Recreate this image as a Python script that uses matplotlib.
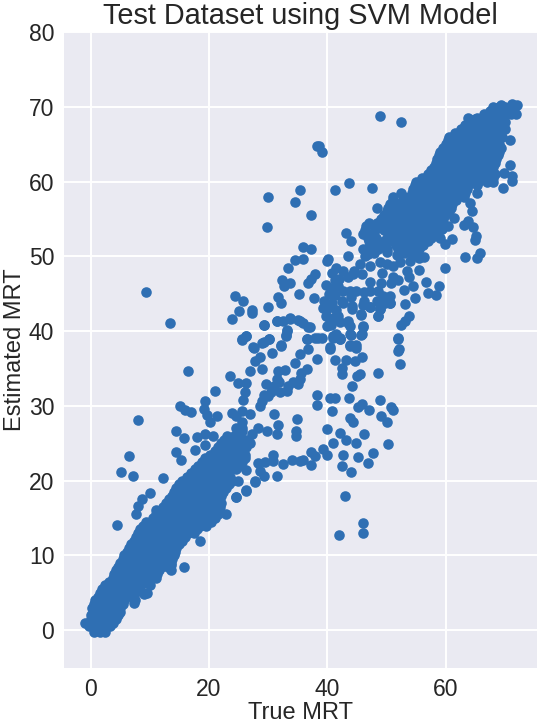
import matplotlib
matplotlib.use("Agg")
import matplotlib.pyplot as plt

plt.rcParams['font.family'] = ['Liberation Sans', 'DejaVu Sans']

title = "Test Dataset using SVM Model"
xlabel = "True MRT"
ylabel = "Estimated MRT"
xticks = [0, 20, 40, 60]
yticks = [0, 10, 20, 30, 40, 50, 60, 70, 80]

# dense lower band, read row by row: estimated value -> true values
lower_y = [-0.3, 0.5, 1, 2, 3, 4, 5, 6, 7, 8, 9, 10, 11, 12, 13, 14, 15, 16, 17, 18, 19, 20, 21, 22, 23, 24, 25, 26, 27]
lower_x = [
    [0.5, 1.5, 2.5], [-0.3, 0.8, 2, 3.2], [-0.9, 0.3, 1.5, 2.7, 3.8], [0, 1.2, 2.4, 3.6, 4.6],
    [0.3, 1.5, 2.7, 3.9, 5.0], [0.8, 2, 3.2, 4.4, 5.6, 7.5], [1.5, 2.7, 3.9, 5.1, 6.3, 7.5, 9.5],
    [2.5, 3.7, 4.9, 6.1, 7.3, 8.5, 10], [3.7, 4.9, 6.1, 7.3, 8.5, 9.7, 11],
    [4.3, 5.5, 6.7, 7.9, 9.1, 10.3, 11.5, 13.5], [5, 6.2, 7.4, 8.6, 9.8, 11, 12.2, 13.5],
    [5.7, 6.9, 8.1, 9.3, 10.5, 11.7, 12.9, 14], [6.5, 7.7, 8.9, 10.1, 11.3, 12.5, 13.7, 14.5],
    [7.3, 8.5, 9.7, 10.9, 12.1, 13.3, 14.5, 15.5], [8, 9.2, 10.4, 11.6, 12.8, 14, 15.2, 16.4, 17.5],
    [8.8, 10, 11.2, 12.4, 13.6, 14.8, 16, 17.2, 18.4, 19.5],
    [10.5, 11.7, 12.9, 14.1, 15.3, 16.5, 17.7, 18.9, 20.1, 21],
    [11.7, 12.9, 14.1, 15.3, 16.5, 17.7, 18.9, 20.1, 21.3],
    [12.7, 13.9, 15.1, 16.3, 17.5, 18.7, 19.9, 21.1, 22], [13.7, 14.9, 16.1, 17.3, 18.5, 19.7, 20.9, 22],
    [14.5, 15.7, 16.9, 18.1, 19.3, 20.5, 21.7, 22.8], [15.5, 16.7, 17.9, 19.1, 20.3, 21.5, 22.7, 23.9],
    [17, 18.2, 19.4, 20.6, 21.8, 23], [18.2, 19.4, 20.6, 21.8, 23, 24.2, 25],
    [19.3, 20.5, 21.7, 22.9, 24.1, 25.3, 26], [21, 22.2, 23.4, 24.6, 25.8], [22, 23.2, 24.4, 25.6, 27],
    [23, 24.2, 25.2], [24.5, 25.5],
]

# more of the lower band, at the rows in between
lower_mid_y = [1.5, 2.5, 3.5, 4.5, 5.5, 6.5, 7.5, 8.5, 9.5, 10.5, 11.5, 12.5, 13.5, 14.5, 15.5, 16.5, 17.5, 18.5, 19.5, 20.5, 21.5, 22.5, 23.5, 24.5, 25.5]
lower_mid_x = [
    [0, 1.1, 2.2, 3.3, 4.2], [0.6, 1.8, 3, 4.2, 5], [0.6, 1.8, 3, 4.2, 5.4], [1.2, 2.4, 3.6, 4.8, 6],
    [2, 3.2, 4.4, 5.6, 6.8, 8], [3.1, 4.3, 5.5, 6.7, 7.9, 9.1], [4, 5.2, 6.4, 7.6, 8.8, 10, 11.2],
    [4.6, 5.9, 7.1, 8.3, 9.5, 10.7, 11.9, 13], [5.4, 6.6, 7.8, 9, 10.2, 11.4, 12.6, 13.8],
    [6.1, 7.3, 8.5, 9.7, 10.9, 12.1, 13.3, 14.3], [6.9, 8.1, 9.3, 10.5, 11.7, 12.9, 14.1, 15],
    [7.7, 8.9, 10.1, 11.3, 12.5, 13.7, 14.9, 16], [8.4, 9.6, 10.8, 12, 13.2, 14.4, 15.6, 16.8, 18],
    [9.4, 11, 12.2, 13.4, 14.6, 15.8, 17, 18.2, 19.4, 20.3],
    [11, 12.3, 13.5, 14.7, 15.9, 17.1, 18.3, 19.5, 20.7, 21.5],
    [12.2, 13.5, 14.7, 15.9, 17.1, 18.3, 19.5, 20.7, 21.8], [13.2, 14.5, 15.7, 16.9, 18.1, 19.3, 20.5, 21.7],
    [14.1, 15.3, 16.5, 17.7, 18.9, 20.1, 21.3, 22.4], [15, 16.3, 17.5, 18.7, 19.9, 21.1, 22.3, 23.3],
    [16.3, 17.5, 18.7, 19.9, 21.1, 22.3, 23.5], [17.6, 18.8, 20, 21.2, 22.4, 23.6, 24.6],
    [18.8, 20, 21.2, 22.4, 23.6, 24.8, 25.6], [20.2, 21.4, 22.6, 23.8, 25, 26],
    [21.5, 22.7, 23.9, 25.1, 26.3], [22.5, 23.7, 24.9, 26.2],
]

# dense upper band, read row by row
upper_y = [70, 69, 68, 67, 66, 65, 64, 63, 62, 61, 60, 59, 58, 57, 56, 55, 54, 53, 52, 51]
upper_x = [
    [68, 69, 70, 71], [66.5, 68, 69.5, 71], [64, 65.5, 67, 68.5, 70], [62.5, 64, 65.5, 67, 68.5, 70],
    [60.5, 62, 63.5, 65, 66.5, 68, 69.5], [60, 61.5, 63, 64.5, 66, 67.5, 69],
    [59, 60.5, 62, 63.5, 65, 66.5, 68, 69], [58.5, 60, 61.5, 63, 64.5, 66, 67.5, 68.5],
    [58, 59.5, 61, 62.5, 64, 65.5, 67, 68], [57, 58.5, 60, 61.5, 63, 64.5, 66, 67.5, 68.3],
    [55, 56.5, 58, 59.5, 61, 62.5, 64, 65.5, 67, 68], [54.5, 56, 57.5, 59, 60.5, 62, 63.5],
    [51, 53, 54, 55.5, 57, 58.5, 60, 61.5, 63], [50.5, 52, 53.5, 55, 56.5, 58, 59.5, 61],
    [50, 51.5, 53, 54.5, 56, 57.5, 59, 60.5], [49, 50.5, 52, 53.5, 55, 56.5, 58, 59.5],
    [46.5, 48, 49.5, 51, 52.5, 54, 55.5, 57, 58.5], [46, 47.5, 50.5, 52, 53.5, 55, 56.5, 58],
    [47, 49.5, 51, 52.5, 54, 55.5, 57], [48.5, 50, 53, 54.5, 55.5],
]

# more of the upper band, at the rows in between
upper_mid_y = [69.5, 68.5, 67.5, 66.5, 65.5, 64.5, 63.5, 62.5, 61.5, 60.5, 59.5, 58.5, 57.5, 56.5, 55.5, 54.5, 53.5, 52.5, 51.5]
upper_mid_x = [
    [67.5, 68.8, 70.2], [65.3, 66.8, 68.2, 69.6], [63.3, 64.8, 66.3, 67.8, 69.3],
    [61.5, 62.8, 64.3, 65.8, 67.3, 68.8], [60.3, 61.3, 62.8, 64.3, 65.8, 67.3, 68.8],
    [59.5, 60.8, 62.3, 63.8, 65.3, 66.8, 68.3, 69.3], [58.8, 60.3, 61.8, 63.3, 64.8, 66.3, 67.8, 68.8],
    [58.3, 59.8, 61.3, 62.8, 64.3, 65.8, 67.3, 68.3], [57.5, 58.8, 60.3, 61.8, 63.3, 64.8, 66.3, 67.8],
    [56, 57.8, 59.3, 60.8, 62.3, 63.8, 65.3, 66.8, 68], [54.8, 56.3, 57.8, 59.3, 60.8, 62.3, 63.8, 65.3],
    [52.5, 54.3, 55.8, 57.3, 58.8, 60.3, 61.8, 63.3], [51, 52.8, 54.3, 55.8, 57.3, 58.8, 60.3, 61.8],
    [50.3, 51.8, 53.3, 54.8, 56.3, 57.8, 59.3, 60.8], [49.5, 50.8, 52.3, 53.8, 55.3, 56.8, 58.3, 59.8],
    [47, 48.3, 49.8, 51.3, 52.8, 54.3, 55.8, 57.3, 58.8], [46.3, 48, 49.5, 51, 52.5, 54, 55.5, 57, 58.3],
    [46.8, 48.2, 50, 51.5, 53, 54.5, 56, 57.5], [48, 49.7, 51.5, 53.2, 54.8, 56.2],
]

# scattered points, upper right
upper_scatter_x = [48.9, 52.4, 38.3, 38.6, 39.1, 30.0, 35.4, 34.5, 41.3, 43.6, 47.5, 37.2, 29.8, 48.3, 43.1, 43.9, 35.8, 37.2, 43.4, 34.5, 35.8, 33.3, 39.9, 40.1, 37.9, 37.3, 36.8, 32.4, 32.6, 33.7, 24.4, 25.8, 25, 27.2, 27.2, 23.9, 29.9, 31.7, 32.1, 35.2, 37.7, 29.3, 31.4, 32.5, 33.7, 35.1, 35.9, 37, 33.1, 33, 26.3, 25.6, 27.5, 29.0, 30.1, 32.1, 36.5, 37.9, 39, 40.4, 42.1, 41, 43.9, 45.7, 46, 43.8, 44.9, 52, 52.1, 52.5, 53.1, 53.8, 48.5, 48.9, 45.7, 53.1, 54.8, 57, 58.3, 58.9, 56.7, 59.8, 63.3, 65.2, 65.8, 55.5, 56.3, 61.1, 59.9, 59, 64.9, 65.1, 64.6, 63, 63.7, 59.3, 60.4, 61.3, 64.4, 64, 65.2, 69.7, 71.2, 71.2, 69.8, 70.8, 70.8, 71.8, 72, 71.1, 69.4, 68.3, 67.4, 63.7, 64.9]
upper_scatter_y = [68.8, 68.0, 64.8, 64.7, 63.9, 57.9, 58.9, 57.3, 58.9, 59.8, 59.1, 55.5, 53.9, 56.4, 53.1, 52.0, 51.3, 51.0, 50.1, 49.5, 49.7, 48.5, 49.4, 49.7, 47.6, 47.0, 46.5, 46.9, 46, 46.5, 44.7, 44.0, 42.7, 42.8, 42.4, 41.6, 43.2, 44.5, 43.8, 44.9, 44.4, 40.8, 41.3, 41.4, 41.7, 41.5, 41.1, 40.5, 40.2, 39.5, 39.3, 38.8, 37.9, 38.4, 38.9, 38.1, 38.9, 39.1, 39.1, 37.9, 38.9, 39.1, 39.5, 39.5, 40.6, 38.1, 38.1, 39.1, 37.6, 40.8, 41.4, 42, 42, 42.9, 42.2, 43.6, 44.4, 45.1, 44.8, 46.0, 46.6, 48.5, 49.9, 49.8, 50.5, 48.2, 49.9, 52.3, 51.7, 52.4, 52.2, 52.7, 53.9, 54.2, 54.7, 53.6, 54.1, 55.1, 56, 57.1, 58.5, 59.1, 60.1, 60.8, 61.1, 62.2, 65.5, 69, 70.3, 70.4, 70.2, 69.8, 69.3, 68.5, 68.4]

# tangled middle cluster
middle_x = [40.7, 41.2, 40.6, 41.3, 40.8, 41.4, 40.9, 40.6, 42.7, 44.4, 45.5, 46.9, 47.2, 48.9, 49.2, 51.1, 52.2, 53.9, 53.4, 52, 53.7, 54.5, 50.8, 47.2, 42.7, 43.8, 44.9, 46.1, 47.2, 48.6, 49.4, 50.6, 50.6, 46.1, 47.2, 44.1, 42.7, 43.5, 43.8, 39.3, 39.9, 41.8, 41.5, 42.1, 43.5, 43.8, 45.8, 46, 45.7, 44.1, 48.6, 48.9, 50.5, 47.2, 40.4, 41.3, 42.4, 43.2, 44.6, 45.9, 43.8, 44.9, 42.1, 41, 52, 52, 52.2, 38.3, 38.3, 40.4, 41.3, 40.7, 43.7, 43.8, 44.4, 45.1, 45.8, 47.1, 48.8, 49.1, 50, 50.8, 51, 48.5, 44.1, 45, 45.5, 42.4]
middle_y = [47.8, 46.8, 45.8, 44.8, 43.8, 42.8, 41.8, 40.8, 48, 47.6, 49, 50.3, 48.7, 49.2, 47.8, 48.7, 49.2, 49.4, 48, 46.9, 47.2, 46, 46.5, 46.6, 45.3, 45.4, 45.4, 45.2, 45.4, 45.4, 44.7, 44.7, 43.8, 44, 43.2, 43.4, 43.8, 41.4, 40.7, 43.1, 40.7, 42, 39.6, 39.1, 41.1, 39.6, 39.6, 40.7, 42.3, 42.9, 42, 43, 43.8, 43.2, 37.6, 36.2, 35.1, 36.2, 36, 36.5, 38, 37.8, 38.9, 39.4, 39, 37.4, 35.6, 31.4, 30.1, 31, 31.1, 29.3, 31.1, 28.4, 27.8, 29.8, 30.2, 29.5, 30.8, 28.6, 27.9, 29.8, 29.5, 34.4, 32.7, 34, 34.2, 34.2]
middle_extra_x = [41.5, 42, 43.5, 44.5, 45.8, 46.3, 47.8, 50, 51.8, 53, 55, 46, 47, 48, 50, 52, 54, 55.5, 49, 51, 53, 41.8, 42.5, 44, 46, 48.4, 49.8, 42.2, 39.8, 40.2, 39.5, 40, 39.7, 40.5]
middle_extra_y = [48.5, 47, 47.2, 48, 47.6, 50, 50.5, 50.6, 50.2, 50.5, 50.2, 51, 51.2, 51.6, 49, 51, 50.6, 49.8, 46.4, 47.3, 45.5, 46, 44, 44.6, 43.5, 44, 43.7, 41.2, 46.2, 45, 44, 43, 42, 41.5]

# scattered points, lower half
lower_scatter_x = [9.3, 13.4, 16.5, 8.0, 6.5, 5.2, 7.1, 12.3, 4.4, 10.1, 8.6, 8.0, 7.6, 11, 22.9, 14.5, 15.7, 14.4, 15.2, 17.6, 18, 19.3, 20.6, 19.3, 15.1, 16, 16.9, 19.3, 19.2, 19.6, 21.4, 20.1, 21, 23.5, 24.9, 26.2, 26, 25.8, 23.8, 24.6, 25.5, 26.9, 25.5, 25.5, 27.2, 28.3, 29.8, 31.4, 31.7, 30.9, 34.8, 34.7, 34.7, 39.9, 42.1, 43.2, 44.9, 46.2, 50.2, 47.7, 46.9, 45.2, 43.9, 42.5, 42.7, 40.9, 39.3, 39.9, 37.3, 37.3, 37.9, 32.5, 34, 35.4, 35.8, 31.4, 30.8, 30.8, 29.4, 28.3, 28.6, 29.2, 27.8, 26.3, 24.9, 26.2, 24.5, 43, 46, 46, 42, 18.5, 15.7, 13.5, 9, 7.4, 24.6, 26.3, 27.8]
lower_scatter_y = [45.2, 41.1, 34.6, 28.1, 23.3, 21.2, 20.6, 20.3, 14.1, 18.4, 17.5, 16.6, 15.6, 16.1, 15.5, 26.6, 25.7, 23.9, 22.8, 24.1, 25.8, 26.2, 26, 24.8, 30, 29.5, 29.2, 30.7, 29.6, 28.8, 28.7, 27.8, 32, 34, 33, 33, 31.8, 30.8, 29, 28.7, 29.3, 28.9, 27.8, 26.6, 26.2, 27.1, 26.6, 26.3, 27.5, 28.9, 28.2, 26.6, 26, 26.9, 26.4, 25.5, 25.1, 26.2, 24.9, 23.7, 22.3, 23.1, 21.1, 22, 23.5, 25.1, 24.3, 23.4, 23.9, 22.1, 23.3, 22.2, 22.7, 22.6, 22.7, 20.6, 23.5, 22.6, 22.5, 22.4, 21.3, 20.6, 20, 21.4, 20, 18.8, 17.8, 18, 14.4, 13, 12.8, 12, 8.5, 8.7, 4.8, 3.6, 17.8, 18.6, 19.8]

# diagonal branch between the bands
branch_x = [25.5, 26.3, 27.6, 29.2, 30.1, 30.6, 32.1, 33.1, 33, 31.4, 29.3, 33.7, 35.4, 36.8, 38.4, 36.5, 36.8, 38.2, 35.3, 34.5, 35.6, 36.5, 31.7, 32.8, 28.6, 27.8, 26.9, 29, 31.4, 29.7, 35.1, 35.3, 29.2, 30, 32, 33.1, 28.9, 28.6, 30.9, 33.4, 34.2, 30.5, 31.8]
branch_y = [39, 39.3, 37.8, 38.5, 38.9, 37.1, 38, 40, 39.4, 41.4, 40.8, 41.6, 41.4, 40.5, 39.1, 38.9, 37.6, 36.3, 36.9, 35.8, 34.4, 34.9, 34.7, 34.8, 36.5, 36, 34.7, 35, 33.6, 32.9, 32.9, 33.6, 31.5, 31.3, 31.8, 32, 30.7, 30, 32.7, 32.6, 33.2, 31.9, 33.2]

color = "#2F6FB3"

x_all = upper_scatter_x + middle_x + middle_extra_x + lower_scatter_x + branch_x
y_all = upper_scatter_y + middle_y + middle_extra_y + lower_scatter_y + branch_y
rows = (list(zip(lower_y, lower_x)) + list(zip(lower_mid_y, lower_mid_x))
        + list(zip(upper_y, upper_x)) + list(zip(upper_mid_y, upper_mid_x)))
for row_y, row_x in rows:
    x_all = x_all + row_x
    y_all = y_all + [row_y] * len(row_x)

fig = plt.figure(figsize=(5.4, 7.23), dpi=100, facecolor="white")
ax = fig.add_axes([64 / 540, 1 - 668 / 723, (537 - 64) / 540, (668 - 32) / 723], facecolor="#EAEAF2")
ax.scatter(x_all, y_all, s=58, color=color, linewidths=0, zorder=3)
ax.set_xlim(-4.5, 75.4)
ax.set_ylim(-5.05, 80)
ax.set_xticks(xticks)
ax.set_yticks(yticks)
ax.grid(True, color="white", linewidth=1.4)
ax.set_axisbelow(True)
for s in ax.spines.values():
    s.set_visible(False)
ax.tick_params(length=0, labelsize=16.5, labelcolor="#262626", pad=7)
ax.set_xlabel(xlabel, fontsize=17, color="#262626", labelpad=1)
ax.set_ylabel(ylabel, fontsize=17, color="#262626", labelpad=2)
ax.set_title(title, fontsize=20.8, color="#262626", pad=6)
fig.savefig("out.png", dpi=100)
